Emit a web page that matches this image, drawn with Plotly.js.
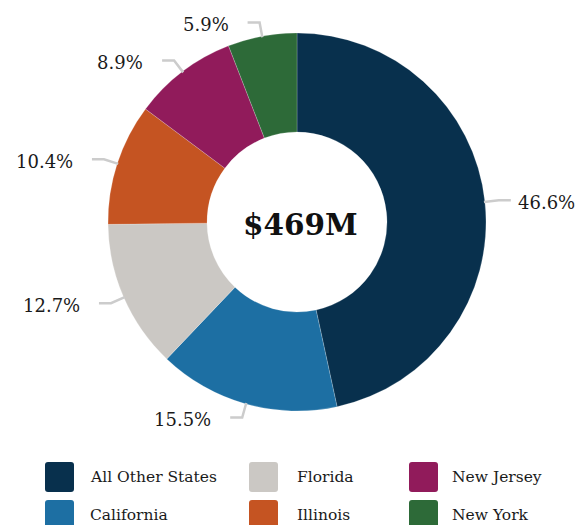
<!DOCTYPE html>
<html><head><meta charset="utf-8">
<script src="https://cdn.plot.ly/plotly-3.0.1.min.js"></script>
<style>html,body{margin:0;padding:0;background:#fff}#chart{width:579px;height:525px}</style>
</head><body><div id="chart"></div>
<script>
// ---- data ----
const categories = ["All Other States","California","Florida","Illinois","New Jersey","New York"];
const shares = [46.6, 15.5, 12.7, 10.4, 8.9, 5.9];
const colors = ["#08304d","#1d6fa3","#cbc8c4","#c55422","#911b5b","#2d6a38"];
const totalMillions = 469;
const legendColumns = [["All Other States","California"],["Florida","Illinois"],["New Jersey","New York"]];

// ---- layout constants ----
const W = 579, H = 525;
const cx = 297, cy = 222, R = 189;
const FONT = "DejaVu Serif, Georgia, serif";
const px = x => x / W;
const py = y => 1 - y / H;

const annotations = [];
const shapes = [];

// center label
annotations.push({
  x: px(cx + 3), y: py(cy + 2), xref: "paper", yref: "paper", showarrow: false,
  text: "<b>$" + totalMillions + "M</b>", font: {family: FONT, size: 29.5, color: "#111"},
  xanchor: "center", yanchor: "middle"
});

// outside labels with leader lines, derived from slice angles
const total = shares.reduce((a, b) => a + b, 0);
let cum = 0;
shares.forEach((v, i) => {
  const frac = v / total;
  const mid = (cum + frac / 2) * 2 * Math.PI;
  cum += frac;
  const sx = Math.sin(mid), sy = Math.cos(mid);
  const p0 = [cx + (R - 1) * sx, cy - (R - 1) * sy];
  const p1 = [cx + 203 * sx, cy - 203 * sy];
  const side = sx >= 0 ? 1 : -1;
  const p2 = [p1[0] + side * 12, p1[1]];
  shapes.push({
    type: "path", xref: "paper", yref: "paper",
    path: `M${px(p0[0])},${py(p0[1])} L${px(p1[0])},${py(p1[1])} L${px(p2[0])},${py(p2[1])}`,
    line: {color: "#cccccc", width: 2.5}
  });
  const gap = side > 0 ? 5 : 17;
  annotations.push({
    x: px(p2[0] + side * gap), y: py(p1[1] + 2), xref: "paper", yref: "paper", showarrow: false,
    text: v.toFixed(1) + "%", font: {family: FONT, size: 18, color: "#1a1a1a"},
    xanchor: side > 0 ? "left" : "right", yanchor: "middle"
  });
});

// custom legend (column-major like the reference)
const colSquareX = [45, 249, 409];
const colTextX = [88, 295, 450];
const rowTop = [462, 500];
const sqW = 29, sqH = 30, rr = 3;
function roundRect(x0, y0, w, h, r) {
  const x1 = x0 + w, y1 = y0 + h;
  const P = (x, y) => `${px(x)},${py(y)}`;
  return `M${P(x0 + r, y0)} L${P(x1 - r, y0)} Q${P(x1, y0)} ${P(x1, y0 + r)} L${P(x1, y1 - r)} Q${P(x1, y1)} ${P(x1 - r, y1)} L${P(x0 + r, y1)} Q${P(x0, y1)} ${P(x0, y1 - r)} L${P(x0, y0 + r)} Q${P(x0, y0)} ${P(x0 + r, y0)} Z`;
}
legendColumns.forEach((col, c) => {
  col.forEach((name, r) => {
    const idx = categories.indexOf(name);
    shapes.push({
      type: "path", xref: "paper", yref: "paper",
      path: roundRect(colSquareX[c], rowTop[r], sqW, sqH, rr),
      fillcolor: colors[idx], line: {width: 0}
    });
    annotations.push({
      x: px(colTextX[c]), y: py(rowTop[r] + sqH / 2), xref: "paper", yref: "paper", showarrow: false,
      text: name, font: {family: FONT, size: 15.5, color: "#1a1a1a"},
      xanchor: "left", yanchor: "middle"
    });
  });
});

const trace = {
  type: "pie",
  labels: categories,
  values: shares,
  marker: {colors: colors, line: {color: "rgba(255,255,255,0.4)", width: 0.5}},
  hole: 90 / 189,
  sort: false,
  direction: "clockwise",
  rotation: 0,
  textinfo: "none",
  hoverinfo: "label+percent",
  domain: {x: [(cx - R) / W, (cx + R) / W], y: [1 - (cy + R) / H, 1 - (cy - R) / H]}
};

const layout = {
  width: W, height: H,
  margin: {l: 0, r: 0, t: 0, b: 0},
  showlegend: false,
  paper_bgcolor: "#ffffff",
  annotations: annotations,
  shapes: shapes,
  font: {family: FONT}
};

Plotly.newPlot("chart", [trace], layout, {displayModeBar: false, staticPlot: true});
</script>
</body></html>
